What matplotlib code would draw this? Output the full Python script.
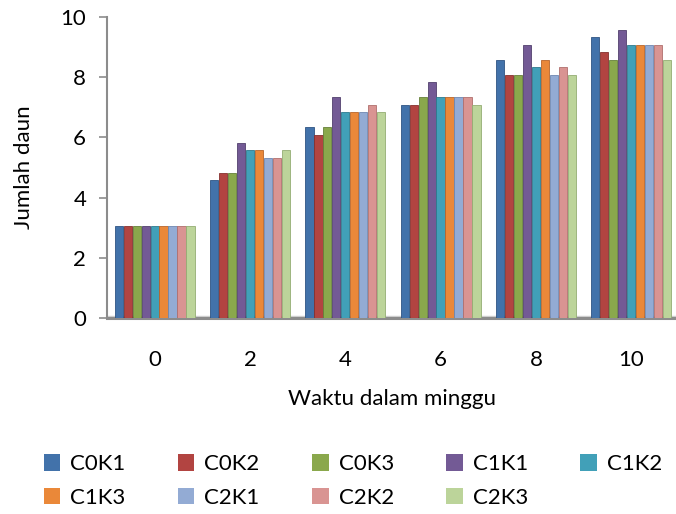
import numpy as np
import matplotlib.pyplot as plt
from matplotlib.patches import Patch

plt.rcParams['font.family'] = ['Lato', 'DejaVu Sans']

weeks = ['0', '2', '4', '6', '8', '10']
series = ['C0K1', 'C0K2', 'C0K3', 'C1K1', 'C1K2', 'C1K3', 'C2K1', 'C2K2', 'C2K3']

C0K1 = [3.06, 4.58, 6.33, 7.08, 8.58, 9.33]
C0K2 = [3.06, 4.83, 6.08, 7.08, 8.08, 8.83]
C0K3 = [3.06, 4.83, 6.33, 7.33, 8.08, 8.58]
C1K1 = [3.06, 5.83, 7.33, 7.83, 9.08, 9.58]
C1K2 = [3.06, 5.58, 6.83, 7.33, 8.33, 9.08]
C1K3 = [3.06, 5.58, 6.83, 7.33, 8.58, 9.08]
C2K1 = [3.06, 5.33, 6.83, 7.33, 8.08, 9.08]
C2K2 = [3.06, 5.33, 7.08, 7.33, 8.33, 9.08]
C2K3 = [3.06, 5.58, 6.83, 7.08, 8.08, 8.58]
values = [C0K1, C0K2, C0K3, C1K1, C1K2, C1K3, C2K1, C2K2, C2K3]

colors = ['#4272aa', '#b24441', '#8aa84c', '#735a95', '#41a0b8', '#ea8839',
          '#93abd4', '#d99492', '#bcd49a']
edges = ['#2f5483', '#86302e', '#66803a', '#52406d', '#2d7a8d', '#b8652a',
         '#6f87b0', '#b06f6d', '#94ad73']

fig = plt.figure(figsize=(6.76, 5.14), dpi=100)
ax = fig.add_axes([107/676, 1 - 318/514, 1 - 107/676, 301/514])

x = np.arange(len(weeks))
w = 0.094
for i, v in enumerate(values):
    ax.bar(x + (i - 4) * w, v, width=w * 0.92, color=colors[i],
           edgecolor=edges[i], linewidth=0.6, label=series[i], zorder=3)

ax.set_xlim(-0.5, 5.47)
ax.set_ylim(0, 10)
ax.set_yticks(range(0, 11, 2))
ax.set_xticks(x)
ax.set_xticklabels(weeks)
ax.axhline(0.08, color='#d0d0d0', lw=1, zorder=2)

for s in ['top', 'right']:
    ax.spines[s].set_visible(False)
ax.spines['left'].set_color('#8c8c8c')
ax.spines['left'].set_linewidth(1.5)
ax.spines['bottom'].set_color('#8c8c8c')
ax.spines['bottom'].set_linewidth(2.2)
ax.tick_params(axis='y', direction='out', length=6, color='#8c8c8c', width=1.2,
               labelsize=16, pad=9)
ax.tick_params(axis='x', length=0, labelsize=16, pad=23)

ax.set_xlabel('Waktu dalam minggu', fontsize=16, labelpad=14)
ax.set_ylabel('Jumlah daun', fontsize=16, labelpad=19)

# row-major order for a 2x5 legend
order = [0, 5, 1, 6, 2, 7, 3, 8, 4]
handles = [Patch(facecolor=colors[i], edgecolor='none') for i in order]
labels = [series[i] for i in order]
fig.legend(handles, labels, loc='upper left', bbox_to_anchor=(0.035, 0.155),
           ncol=5, frameon=False, fontsize=16, handlelength=0.75, handleheight=0.75,
           handletextpad=0.45, columnspacing=2.35, labelspacing=0.6)

fig.savefig('out.png', dpi=100)
